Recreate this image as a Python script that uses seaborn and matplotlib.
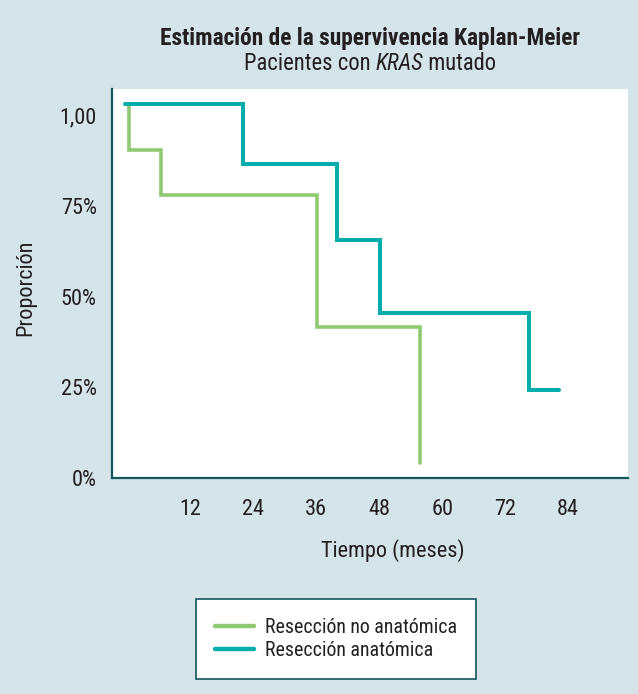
import numpy as np
import pandas as pd
import matplotlib
matplotlib.use("Agg")
import matplotlib.pyplot as plt
import seaborn as sns
from matplotlib.lines import Line2D

# -----------------------------
# Data
# -----------------------------
grupos = ["Resección no anatómica", "Resección anatómica"]

tiempo_no_anat = [0.4, 0.4, 6.4, 36.1, 55.8, 55.8]
prop_no_anat = [1.03, 0.904, 0.779, 0.415, 0.04, 0.04]

tiempo_anat = [-0.4, 22.0, 40.0, 48.2, 76.6, 82.2]
prop_anat = [1.03, 0.866, 0.656, 0.454, 0.242, 0.242]

x_ticks = [12, 24, 36, 48, 60, 72, 84]
y_ticks = [0, 0.25, 0.5, 0.75, 1.0]
y_tick_labels = ["0%", "25%", "50%", "75%", "1,00"]

df = pd.concat([
    pd.DataFrame({"tiempo": tiempo_no_anat, "prop": prop_no_anat, "grupo": grupos[0]}),
    pd.DataFrame({"tiempo": tiempo_anat, "prop": prop_anat, "grupo": grupos[1]}),
], ignore_index=True)

# -----------------------------
# Style
# -----------------------------
sns.set_theme(style="white")
fuente = ["Roboto Condensed", "Archivo Narrow", "Liberation Sans", "DejaVu Sans"]
fuente_negrita = ["Roboto Condensed", "Barlow Semi Condensed", "Liberation Sans", "DejaVu Sans"]
plt.rcParams["font.family"] = fuente

bg = "#d5e4e9"
axis_col = "#14555e"
text_col = "#231f20"
verde = "#8fca72"
turquesa = "#05adad"
palette = {grupos[0]: verde, grupos[1]: turquesa}

W, H = 638, 694
fig = plt.figure(figsize=(W / 100, H / 100), dpi=100, facecolor=bg)
ax = fig.add_axes([112 / W, 1 - 478 / H, (628 - 112) / W, (478 - 89) / H])
ax.set_facecolor("white")

sns.lineplot(
    data=df, x="tiempo", y="prop", hue="grupo", palette=palette,
    estimator=None, sort=False, drawstyle="steps-post",
    linewidth=2.9, legend=False, ax=ax,
)
for ln in ax.lines:
    ln.set_solid_capstyle("round")
    ln.set_solid_joinstyle("miter")
ax.lines[0].set_linewidth(2.6)

ax.set_xlim(-2.9, 95.4)
ax.set_ylim(0, 1.072)
ax.set_xticks(x_ticks)
ax.set_yticks(y_ticks)
ax.set_yticklabels(y_tick_labels)

for s in ["top", "right"]:
    ax.spines[s].set_visible(False)
for s in ["left", "bottom"]:
    ax.spines[s].set_color(axis_col)
    ax.spines[s].set_linewidth(1.6)

ax.tick_params(axis="x", length=9, width=1.6, color=axis_col, pad=6,
               labelsize=16, labelcolor=text_col, direction="out")
ax.tick_params(axis="y", length=8, width=1.6, color=axis_col, pad=3,
               labelsize=16, labelcolor=text_col, direction="out")

ax.set_xlabel("Tiempo (meses)", fontsize=16, color=text_col)
ax.xaxis.set_label_coords((393 - 112) / 516, (478 - 539) / 389)
ax.set_ylabel("Proporción", fontsize=16, color=text_col)
ax.yaxis.set_label_coords((36 - 112) / 516, 0.49)

# -----------------------------
# Titles
# -----------------------------
fig.text(370 / W, 1 - 38 / H, "Estimación de la supervivencia Kaplan-Meier",
         ha="center", va="center", fontsize=16.8, fontweight="bold",
         family=fuente_negrita, color=text_col)

fig.canvas.draw()
r = fig.canvas.get_renderer()
parts = [("Pacientes con ", "normal"), ("KRAS", "italic"), (" mutado", "normal")]
objs = [fig.text(0, 1 - 63 / H, p, style=st, fontsize=16.3, color=text_col,
                 ha="left", va="center") for p, st in parts]
widths = [o.get_window_extent(r).width for o in objs]
x0 = 370 - sum(widths) / 2
for o, w in zip(objs, widths):
    o.set_x(x0 / W)
    x0 += w

# -----------------------------
# Legend
# -----------------------------
handles = [Line2D([], [], color=palette[g], linewidth=3.2, solid_capstyle="round") for g in grupos]
leg = fig.legend(handles, grupos, loc="center", bbox_to_anchor=(336 / W, 1 - 639 / H),
                 frameon=True, fancybox=False, fontsize=14.3, handlelength=1.95,
                 handletextpad=0.55, labelspacing=0.22, borderpad=0.95,
                 borderaxespad=0, labelcolor=text_col)
frame = leg.get_frame()
frame.set_edgecolor(axis_col)
frame.set_linewidth(1.2)
frame.set_facecolor("white")
frame.set_alpha(1)

fig.savefig("out.png", dpi=100, facecolor=bg)
